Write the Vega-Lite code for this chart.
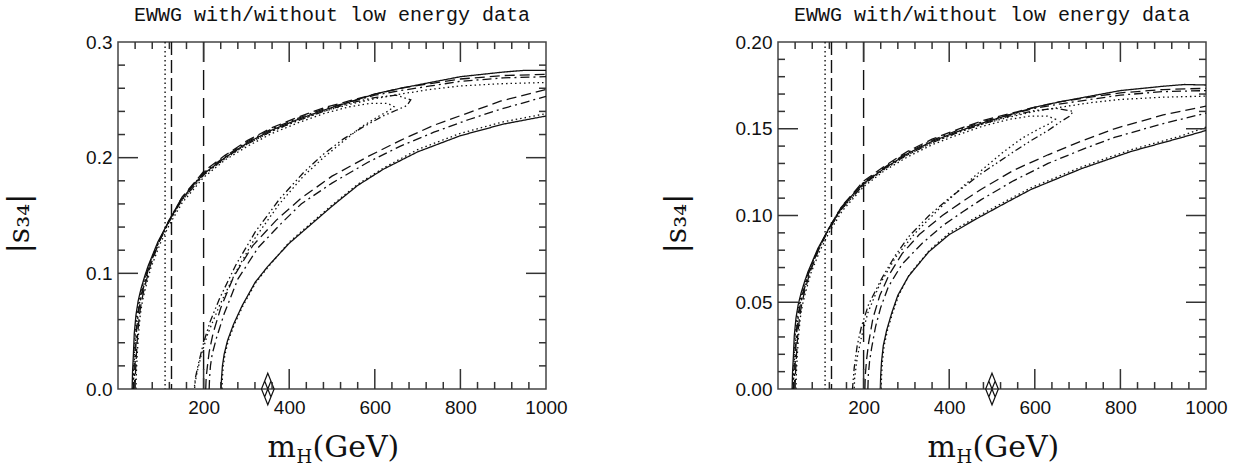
{
"$schema":"https://vega.github.io/schema/vega-lite/v6.json",
"background":"white",
"padding":{"left":3,"top":4,"right":5,"bottom":2},
"spacing":232,
"bounds":"flush",
"config":{
 "view":{"stroke":"#444","strokeWidth":1.5},
 "axis":{"domain":false,"grid":false,"ticks":false,"labelFont":"Liberation Sans","labelFontSize":19,"labelColor":"#111","labelFlush":false,"labelOverlap":false,"titleFont":"DejaVu Serif","titleFontWeight":"normal","titleColor":"#111"},
 "rule":{"color":"#333","strokeWidth":1.5},
 "title":{"font":"Liberation Mono","fontSize":20,"fontWeight":"normal","color":"#111","anchor":"middle","frame":"group","offset":8,"baseline":"alphabetic"}
},
"datasets":{
"XM":[{"t":200},{"t":400},{"t":600},{"t":800}],
"XN":[{"t":40},{"t":80},{"t":120},{"t":160},{"t":240},{"t":280},{"t":320},{"t":360},{"t":440},{"t":480},{"t":520},{"t":560},{"t":640},{"t":680},{"t":720},{"t":760},{"t":840},{"t":880},{"t":920},{"t":960}],
"YML":[{"t":0.1},{"t":0.2}],
"YNL":[{"t":0.02},{"t":0.04},{"t":0.06},{"t":0.08},{"t":0.12},{"t":0.14},{"t":0.16},{"t":0.18},{"t":0.22},{"t":0.24},{"t":0.26},{"t":0.28}],
"YMR":[{"t":0.05},{"t":0.1},{"t":0.15}],
"YNR":[{"t":0.01},{"t":0.02},{"t":0.03},{"t":0.04},{"t":0.06},{"t":0.07},{"t":0.08},{"t":0.09},{"t":0.11},{"t":0.12},{"t":0.13},{"t":0.14},{"t":0.16},{"t":0.17},{"t":0.18},{"t":0.19}],
"L":[
{"k":"c1u","x":33,"y":0},{"k":"c1u","x":34,"y":0.015},{"k":"c1u","x":36,"y":0.03},{"k":"c1u","x":38,"y":0.048},{"k":"c1u","x":42,"y":0.064},{"k":"c1u","x":47,"y":0.076},{"k":"c1u","x":54,"y":0.087},{"k":"c1u","x":62,"y":0.097},{"k":"c1u","x":70,"y":0.106},{"k":"c1u","x":82,"y":0.117},{"k":"c1u","x":93,"y":0.127},{"k":"c1u","x":117,"y":0.144},{"k":"c1u","x":147,"y":0.163},{"k":"c1u","x":175,"y":0.176},{"k":"c1u","x":200,"y":0.186},{"k":"c1u","x":250,"y":0.2},{"k":"c1u","x":303,"y":0.213},{"k":"c1u","x":360,"y":0.224},{"k":"c1u","x":420,"y":0.233},{"k":"c1u","x":480,"y":0.241},{"k":"c1u","x":540,"y":0.248},{"k":"c1u","x":600,"y":0.255},{"k":"c1u","x":660,"y":0.26},{"k":"c1u","x":730,"y":0.265},{"k":"c1u","x":800,"y":0.27},{"k":"c1u","x":900,"y":0.274},{"k":"c1u","x":950,"y":0.2755},{"k":"c1u","x":1000,"y":0.2755},
{"k":"c1l","x":241,"y":0},{"k":"c1l","x":242,"y":0.01},{"k":"c1l","x":244,"y":0.02},{"k":"c1l","x":248,"y":0.03},{"k":"c1l","x":256,"y":0.042},{"k":"c1l","x":270,"y":0.056},{"k":"c1l","x":290,"y":0.072},{"k":"c1l","x":320,"y":0.092},{"k":"c1l","x":350,"y":0.106},{"k":"c1l","x":400,"y":0.126},{"k":"c1l","x":450,"y":0.142},{"k":"c1l","x":500,"y":0.158},{"k":"c1l","x":560,"y":0.176},{"k":"c1l","x":620,"y":0.19},{"k":"c1l","x":700,"y":0.205},{"k":"c1l","x":800,"y":0.219},{"k":"c1l","x":900,"y":0.229},{"k":"c1l","x":1000,"y":0.236},
{"k":"c2u","x":35,"y":0},{"k":"c2u","x":36,"y":0.015},{"k":"c2u","x":38,"y":0.03},{"k":"c2u","x":40,"y":0.048},{"k":"c2u","x":44,"y":0.064},{"k":"c2u","x":49,"y":0.076},{"k":"c2u","x":56,"y":0.087},{"k":"c2u","x":70,"y":0.105},{"k":"c2u","x":93,"y":0.126},{"k":"c2u","x":117,"y":0.143},{"k":"c2u","x":147,"y":0.162},{"k":"c2u","x":200,"y":0.185},{"k":"c2u","x":250,"y":0.199},{"k":"c2u","x":303,"y":0.212},{"k":"c2u","x":360,"y":0.223},{"k":"c2u","x":420,"y":0.232},{"k":"c2u","x":480,"y":0.24},{"k":"c2u","x":540,"y":0.246},{"k":"c2u","x":600,"y":0.251},{"k":"c2u","x":660,"y":0.255},{"k":"c2u","x":730,"y":0.259},{"k":"c2u","x":800,"y":0.262},{"k":"c2u","x":900,"y":0.264},{"k":"c2u","x":1000,"y":0.265},
{"k":"c2l","x":243,"y":0},{"k":"c2l","x":244,"y":0.01},{"k":"c2l","x":246,"y":0.02},{"k":"c2l","x":250,"y":0.03},{"k":"c2l","x":258,"y":0.042},{"k":"c2l","x":272,"y":0.056},{"k":"c2l","x":292,"y":0.072},{"k":"c2l","x":322,"y":0.092},{"k":"c2l","x":352,"y":0.106},{"k":"c2l","x":400,"y":0.127},{"k":"c2l","x":450,"y":0.143},{"k":"c2l","x":500,"y":0.159},{"k":"c2l","x":560,"y":0.177},{"k":"c2l","x":620,"y":0.191},{"k":"c2l","x":700,"y":0.207},{"k":"c2l","x":800,"y":0.221},{"k":"c2l","x":900,"y":0.231},{"k":"c2l","x":1000,"y":0.238},
{"k":"c3u","x":38,"y":0},{"k":"c3u","x":39,"y":0.015},{"k":"c3u","x":41,"y":0.03},{"k":"c3u","x":43,"y":0.048},{"k":"c3u","x":47,"y":0.064},{"k":"c3u","x":52,"y":0.076},{"k":"c3u","x":59,"y":0.087},{"k":"c3u","x":72,"y":0.105},{"k":"c3u","x":95,"y":0.127},{"k":"c3u","x":118,"y":0.145},{"k":"c3u","x":147,"y":0.164},{"k":"c3u","x":200,"y":0.187},{"k":"c3u","x":250,"y":0.201},{"k":"c3u","x":303,"y":0.214},{"k":"c3u","x":360,"y":0.225},{"k":"c3u","x":420,"y":0.234},{"k":"c3u","x":480,"y":0.242},{"k":"c3u","x":540,"y":0.248},{"k":"c3u","x":600,"y":0.254},{"k":"c3u","x":660,"y":0.258},{"k":"c3u","x":730,"y":0.262},{"k":"c3u","x":800,"y":0.266},{"k":"c3u","x":900,"y":0.269},{"k":"c3u","x":1000,"y":0.27},
{"k":"c3l","x":213,"y":0},{"k":"c3l","x":214,"y":0.01},{"k":"c3l","x":216,"y":0.02},{"k":"c3l","x":220,"y":0.03},{"k":"c3l","x":230,"y":0.044},{"k":"c3l","x":248,"y":0.065},{"k":"c3l","x":280,"y":0.095},{"k":"c3l","x":327,"y":0.122},{"k":"c3l","x":381,"y":0.143},{"k":"c3l","x":428,"y":0.16},{"k":"c3l","x":500,"y":0.178},{"k":"c3l","x":584,"y":0.196},{"k":"c3l","x":660,"y":0.21},{"k":"c3l","x":738,"y":0.222},{"k":"c3l","x":820,"y":0.233},{"k":"c3l","x":895,"y":0.242},{"k":"c3l","x":1000,"y":0.253},
{"k":"c4u","x":40,"y":0},{"k":"c4u","x":41,"y":0.015},{"k":"c4u","x":43,"y":0.03},{"k":"c4u","x":46,"y":0.048},{"k":"c4u","x":50,"y":0.064},{"k":"c4u","x":55,"y":0.076},{"k":"c4u","x":62,"y":0.088},{"k":"c4u","x":75,"y":0.106},{"k":"c4u","x":97,"y":0.128},{"k":"c4u","x":120,"y":0.146},{"k":"c4u","x":150,"y":0.166},{"k":"c4u","x":200,"y":0.188},{"k":"c4u","x":250,"y":0.202},{"k":"c4u","x":303,"y":0.215},{"k":"c4u","x":360,"y":0.226},{"k":"c4u","x":420,"y":0.235},{"k":"c4u","x":480,"y":0.243},{"k":"c4u","x":540,"y":0.249},{"k":"c4u","x":600,"y":0.255},{"k":"c4u","x":660,"y":0.26},{"k":"c4u","x":730,"y":0.264},{"k":"c4u","x":800,"y":0.268},{"k":"c4u","x":900,"y":0.271},{"k":"c4u","x":1000,"y":0.272},
{"k":"c4l","x":205,"y":0},{"k":"c4l","x":206,"y":0.01},{"k":"c4l","x":209,"y":0.02},{"k":"c4l","x":213,"y":0.032},{"k":"c4l","x":222,"y":0.048},{"k":"c4l","x":240,"y":0.07},{"k":"c4l","x":270,"y":0.097},{"k":"c4l","x":315,"y":0.124},{"k":"c4l","x":370,"y":0.146},{"k":"c4l","x":428,"y":0.165},{"k":"c4l","x":500,"y":0.184},{"k":"c4l","x":584,"y":0.201},{"k":"c4l","x":660,"y":0.215},{"k":"c4l","x":738,"y":0.228},{"k":"c4l","x":820,"y":0.239},{"k":"c4l","x":895,"y":0.249},{"k":"c4l","x":1000,"y":0.259},
{"k":"c5","x":36,"y":0},{"k":"c5","x":37,"y":0.015},{"k":"c5","x":39,"y":0.03},{"k":"c5","x":42,"y":0.048},{"k":"c5","x":46,"y":0.064},{"k":"c5","x":51,"y":0.076},{"k":"c5","x":58,"y":0.087},{"k":"c5","x":71,"y":0.105},{"k":"c5","x":94,"y":0.126},{"k":"c5","x":117,"y":0.143},{"k":"c5","x":147,"y":0.162},{"k":"c5","x":200,"y":0.185},{"k":"c5","x":250,"y":0.2},{"k":"c5","x":303,"y":0.212},{"k":"c5","x":360,"y":0.223},{"k":"c5","x":420,"y":0.232},{"k":"c5","x":480,"y":0.24},{"k":"c5","x":540,"y":0.247},{"k":"c5","x":600,"y":0.252},{"k":"c5","x":650,"y":0.254},{"k":"c5","x":684,"y":0.25},{"k":"c5","x":675,"y":0.245},{"k":"c5","x":650,"y":0.241},{"k":"c5","x":619,"y":0.236},{"k":"c5","x":570,"y":0.226},{"k":"c5","x":526,"y":0.216},{"k":"c5","x":480,"y":0.203},{"k":"c5","x":433,"y":0.187},{"k":"c5","x":377,"y":0.164},{"k":"c5","x":321,"y":0.136},{"k":"c5","x":275,"y":0.107},{"k":"c5","x":237,"y":0.078},{"k":"c5","x":215,"y":0.058},{"k":"c5","x":200,"y":0.04},{"k":"c5","x":188,"y":0.022},{"k":"c5","x":181,"y":0.01},{"k":"c5","x":178,"y":0},
{"k":"c6","x":42,"y":0},{"k":"c6","x":43,"y":0.015},{"k":"c6","x":45,"y":0.03},{"k":"c6","x":48,"y":0.048},{"k":"c6","x":52,"y":0.064},{"k":"c6","x":57,"y":0.076},{"k":"c6","x":64,"y":0.087},{"k":"c6","x":77,"y":0.105},{"k":"c6","x":99,"y":0.126},{"k":"c6","x":120,"y":0.142},{"k":"c6","x":150,"y":0.161},{"k":"c6","x":200,"y":0.183},{"k":"c6","x":250,"y":0.198},{"k":"c6","x":303,"y":0.21},{"k":"c6","x":360,"y":0.221},{"k":"c6","x":420,"y":0.23},{"k":"c6","x":480,"y":0.238},{"k":"c6","x":540,"y":0.244},{"k":"c6","x":590,"y":0.247},{"k":"c6","x":630,"y":0.247},{"k":"c6","x":645,"y":0.244},{"k":"c6","x":630,"y":0.24},{"k":"c6","x":610,"y":0.236},{"k":"c6","x":570,"y":0.227},{"k":"c6","x":526,"y":0.214},{"k":"c6","x":480,"y":0.2},{"k":"c6","x":433,"y":0.184},{"k":"c6","x":377,"y":0.16},{"k":"c6","x":321,"y":0.131},{"k":"c6","x":275,"y":0.101},{"k":"c6","x":237,"y":0.072},{"k":"c6","x":210,"y":0.048},{"k":"c6","x":195,"y":0.03},{"k":"c6","x":185,"y":0.015},{"k":"c6","x":180,"y":0.005},{"k":"c6","x":179,"y":0}
],
"R":[
{"k":"c1u","x":33,"y":0},{"k":"c1u","x":34,"y":0.0096},{"k":"c1u","x":36,"y":0.019},{"k":"c1u","x":38,"y":0.0306},{"k":"c1u","x":42,"y":0.0408},{"k":"c1u","x":47,"y":0.0484},{"k":"c1u","x":54,"y":0.0554},{"k":"c1u","x":62,"y":0.0618},{"k":"c1u","x":70,"y":0.0675},{"k":"c1u","x":82,"y":0.0745},{"k":"c1u","x":93,"y":0.0809},{"k":"c1u","x":117,"y":0.0917},{"k":"c1u","x":147,"y":0.1038},{"k":"c1u","x":175,"y":0.1121},{"k":"c1u","x":200,"y":0.1185},{"k":"c1u","x":250,"y":0.1274},{"k":"c1u","x":303,"y":0.1357},{"k":"c1u","x":360,"y":0.1427},{"k":"c1u","x":420,"y":0.1484},{"k":"c1u","x":480,"y":0.1535},{"k":"c1u","x":540,"y":0.158},{"k":"c1u","x":600,"y":0.1624},{"k":"c1u","x":660,"y":0.1656},{"k":"c1u","x":730,"y":0.1688},{"k":"c1u","x":800,"y":0.172},{"k":"c1u","x":900,"y":0.1745},{"k":"c1u","x":950,"y":0.1755},{"k":"c1u","x":1000,"y":0.1752},
{"k":"c1l","x":239,"y":0},{"k":"c1l","x":240,"y":0.008},{"k":"c1l","x":242,"y":0.016},{"k":"c1l","x":246,"y":0.025},{"k":"c1l","x":254,"y":0.034},{"k":"c1l","x":266,"y":0.044},{"k":"c1l","x":280,"y":0.054},{"k":"c1l","x":305,"y":0.065},{"k":"c1l","x":352,"y":0.079},{"k":"c1l","x":400,"y":0.089},{"k":"c1l","x":463,"y":0.098},{"k":"c1l","x":530,"y":0.107},{"k":"c1l","x":591,"y":0.115},{"k":"c1l","x":650,"y":0.121},{"k":"c1l","x":709,"y":0.127},{"k":"c1l","x":826,"y":0.137},{"k":"c1l","x":944,"y":0.145},{"k":"c1l","x":1000,"y":0.149},
{"k":"c2u","x":35,"y":0},{"k":"c2u","x":36,"y":0.0096},{"k":"c2u","x":38,"y":0.019},{"k":"c2u","x":40,"y":0.0306},{"k":"c2u","x":44,"y":0.0408},{"k":"c2u","x":49,"y":0.0484},{"k":"c2u","x":56,"y":0.0554},{"k":"c2u","x":70,"y":0.0669},{"k":"c2u","x":93,"y":0.0803},{"k":"c2u","x":117,"y":0.0911},{"k":"c2u","x":147,"y":0.1032},{"k":"c2u","x":200,"y":0.1178},{"k":"c2u","x":250,"y":0.1268},{"k":"c2u","x":303,"y":0.135},{"k":"c2u","x":360,"y":0.142},{"k":"c2u","x":420,"y":0.1478},{"k":"c2u","x":480,"y":0.1529},{"k":"c2u","x":540,"y":0.1567},{"k":"c2u","x":600,"y":0.16},{"k":"c2u","x":660,"y":0.1624},{"k":"c2u","x":730,"y":0.165},{"k":"c2u","x":800,"y":0.1669},{"k":"c2u","x":900,"y":0.1682},{"k":"c2u","x":1000,"y":0.1688},
{"k":"c2l","x":241,"y":0},{"k":"c2l","x":242,"y":0.008},{"k":"c2l","x":244,"y":0.016},{"k":"c2l","x":248,"y":0.025},{"k":"c2l","x":256,"y":0.034},{"k":"c2l","x":268,"y":0.044},{"k":"c2l","x":282,"y":0.054},{"k":"c2l","x":307,"y":0.066},{"k":"c2l","x":354,"y":0.08},{"k":"c2l","x":400,"y":0.09},{"k":"c2l","x":463,"y":0.099},{"k":"c2l","x":530,"y":0.108},{"k":"c2l","x":591,"y":0.116},{"k":"c2l","x":650,"y":0.122},{"k":"c2l","x":709,"y":0.128},{"k":"c2l","x":826,"y":0.138},{"k":"c2l","x":944,"y":0.146},{"k":"c2l","x":1000,"y":0.151},
{"k":"c3u","x":38,"y":0},{"k":"c3u","x":39,"y":0.0096},{"k":"c3u","x":41,"y":0.019},{"k":"c3u","x":43,"y":0.0306},{"k":"c3u","x":47,"y":0.0408},{"k":"c3u","x":52,"y":0.0484},{"k":"c3u","x":59,"y":0.0554},{"k":"c3u","x":72,"y":0.0669},{"k":"c3u","x":95,"y":0.0809},{"k":"c3u","x":118,"y":0.0924},{"k":"c3u","x":147,"y":0.1045},{"k":"c3u","x":200,"y":0.1191},{"k":"c3u","x":250,"y":0.128},{"k":"c3u","x":303,"y":0.1363},{"k":"c3u","x":360,"y":0.1433},{"k":"c3u","x":420,"y":0.1491},{"k":"c3u","x":480,"y":0.1542},{"k":"c3u","x":540,"y":0.158},{"k":"c3u","x":600,"y":0.1618},{"k":"c3u","x":660,"y":0.1643},{"k":"c3u","x":730,"y":0.1669},{"k":"c3u","x":800,"y":0.1694},{"k":"c3u","x":900,"y":0.1714},{"k":"c3u","x":1000,"y":0.172},
{"k":"c3l","x":210,"y":0},{"k":"c3l","x":211,"y":0.008},{"k":"c3l","x":214,"y":0.016},{"k":"c3l","x":219,"y":0.024},{"k":"c3l","x":228,"y":0.036},{"k":"c3l","x":240,"y":0.047},{"k":"c3l","x":258,"y":0.059},{"k":"c3l","x":290,"y":0.072},{"k":"c3l","x":337,"y":0.084},{"k":"c3l","x":384,"y":0.094},{"k":"c3l","x":431,"y":0.102},{"k":"c3l","x":474,"y":0.109},{"k":"c3l","x":550,"y":0.12},{"k":"c3l","x":631,"y":0.13},{"k":"c3l","x":710,"y":0.138},{"k":"c3l","x":786,"y":0.145},{"k":"c3l","x":900,"y":0.153},{"k":"c3l","x":1000,"y":0.159},
{"k":"c4u","x":40,"y":0},{"k":"c4u","x":41,"y":0.0096},{"k":"c4u","x":43,"y":0.019},{"k":"c4u","x":46,"y":0.0306},{"k":"c4u","x":50,"y":0.0408},{"k":"c4u","x":55,"y":0.0484},{"k":"c4u","x":62,"y":0.0561},{"k":"c4u","x":75,"y":0.0675},{"k":"c4u","x":97,"y":0.0815},{"k":"c4u","x":120,"y":0.093},{"k":"c4u","x":150,"y":0.1057},{"k":"c4u","x":200,"y":0.1198},{"k":"c4u","x":250,"y":0.1287},{"k":"c4u","x":303,"y":0.137},{"k":"c4u","x":360,"y":0.144},{"k":"c4u","x":420,"y":0.1497},{"k":"c4u","x":480,"y":0.1548},{"k":"c4u","x":540,"y":0.1586},{"k":"c4u","x":600,"y":0.1624},{"k":"c4u","x":660,"y":0.1656},{"k":"c4u","x":730,"y":0.1682},{"k":"c4u","x":800,"y":0.1707},{"k":"c4u","x":900,"y":0.1726},{"k":"c4u","x":1000,"y":0.1733},
{"k":"c4l","x":203,"y":0},{"k":"c4l","x":204,"y":0.008},{"k":"c4l","x":207,"y":0.017},{"k":"c4l","x":212,"y":0.027},{"k":"c4l","x":222,"y":0.041},{"k":"c4l","x":238,"y":0.054},{"k":"c4l","x":260,"y":0.066},{"k":"c4l","x":290,"y":0.078},{"k":"c4l","x":330,"y":0.089},{"k":"c4l","x":384,"y":0.1},{"k":"c4l","x":431,"y":0.108},{"k":"c4l","x":474,"y":0.115},{"k":"c4l","x":550,"y":0.126},{"k":"c4l","x":631,"y":0.135},{"k":"c4l","x":710,"y":0.143},{"k":"c4l","x":786,"y":0.15},{"k":"c4l","x":900,"y":0.158},{"k":"c4l","x":1000,"y":0.163},
{"k":"c5","x":36,"y":0},{"k":"c5","x":37,"y":0.0096},{"k":"c5","x":39,"y":0.019},{"k":"c5","x":42,"y":0.0306},{"k":"c5","x":46,"y":0.0408},{"k":"c5","x":51,"y":0.0484},{"k":"c5","x":58,"y":0.0554},{"k":"c5","x":71,"y":0.0669},{"k":"c5","x":94,"y":0.0803},{"k":"c5","x":117,"y":0.0911},{"k":"c5","x":147,"y":0.1032},{"k":"c5","x":200,"y":0.1178},{"k":"c5","x":250,"y":0.1274},{"k":"c5","x":303,"y":0.135},{"k":"c5","x":360,"y":0.142},{"k":"c5","x":420,"y":0.1478},{"k":"c5","x":480,"y":0.1529},{"k":"c5","x":540,"y":0.1573},{"k":"c5","x":600,"y":0.1605},{"k":"c5","x":650,"y":0.1618},{"k":"c5","x":690,"y":0.16},{"k":"c5","x":680,"y":0.157},{"k":"c5","x":660,"y":0.154},{"k":"c5","x":631,"y":0.149},{"k":"c5","x":590,"y":0.143},{"k":"c5","x":552,"y":0.137},{"k":"c5","x":474,"y":0.124},{"k":"c5","x":400,"y":0.11},{"k":"c5","x":353,"y":0.1},{"k":"c5","x":306,"y":0.088},{"k":"c5","x":274,"y":0.077},{"k":"c5","x":243,"y":0.064},{"k":"c5","x":212,"y":0.049},{"k":"c5","x":195,"y":0.036},{"k":"c5","x":185,"y":0.025},{"k":"c5","x":178,"y":0.012},{"k":"c5","x":174,"y":0},
{"k":"c6","x":42,"y":0},{"k":"c6","x":43,"y":0.0096},{"k":"c6","x":45,"y":0.019},{"k":"c6","x":48,"y":0.0306},{"k":"c6","x":52,"y":0.0408},{"k":"c6","x":57,"y":0.0484},{"k":"c6","x":64,"y":0.0554},{"k":"c6","x":77,"y":0.0669},{"k":"c6","x":99,"y":0.0803},{"k":"c6","x":120,"y":0.0905},{"k":"c6","x":150,"y":0.1026},{"k":"c6","x":200,"y":0.1166},{"k":"c6","x":250,"y":0.1261},{"k":"c6","x":303,"y":0.1338},{"k":"c6","x":360,"y":0.1408},{"k":"c6","x":420,"y":0.1465},{"k":"c6","x":480,"y":0.1516},{"k":"c6","x":540,"y":0.1554},{"k":"c6","x":590,"y":0.1573},{"k":"c6","x":630,"y":0.1573},{"k":"c6","x":648,"y":0.1555},{"k":"c6","x":635,"y":0.153},{"k":"c6","x":610,"y":0.15},{"k":"c6","x":570,"y":0.1445},{"k":"c6","x":526,"y":0.1365},{"k":"c6","x":480,"y":0.127},{"k":"c6","x":433,"y":0.117},{"k":"c6","x":377,"y":0.104},{"k":"c6","x":321,"y":0.09},{"k":"c6","x":275,"y":0.076},{"k":"c6","x":237,"y":0.06},{"k":"c6","x":210,"y":0.044},{"k":"c6","x":195,"y":0.03},{"k":"c6","x":185,"y":0.018},{"k":"c6","x":179,"y":0.006},{"k":"c6","x":178,"y":0}
]
},
"hconcat":[
{
 "width":428,"height":347,
 "title":{"text":"EWWG with/without low energy data"},
 "resolve":{"axis":{"x":"independent","y":"independent"}},
 "layer":[
  {"data":{"name":"L"},"transform":[{"filter":{"field":"k","oneOf":["c1u","c1l","c2u","c2l"]}}],
   "mark":{"type":"line","strokeWidth":1.3,"color":"#111"},
   "encoding":{
    "x":{"field":"x","type":"quantitative","scale":{"domain":[0,1000],"nice":false,"zero":false},"axis":{"orient":"bottom","values":[200,400,600,800,1000],"format":"d","labelPadding":9,"title":"(GeV)","titleX":194,"titleY":67,"titleAlign":"left","titleBaseline":"alphabetic","titleFontSize":30}},
    "y":{"field":"y","type":"quantitative","scale":{"domain":[0,0.3],"nice":false,"zero":false},"axis":{"orient":"left","values":[0,0.1,0.2,0.3],"format":".1f","labelPadding":6,"title":"|s₃₄|","titleX":-90,"titleY":181,"titleAngle":-90,"titleAlign":"center","titleBaseline":"alphabetic","titleFontSize":30}},
    "strokeDash":{"field":"k","type":"nominal","legend":null,"scale":{"domain":["c1u","c1l","c2u","c2l","c3u","c3l","c4u","c4l","c5","c6","v1","v2","v3"],"range":[[1,0],[1,0],[1.5,3],[1.5,3],[9,4,2,4],[9,4,2,4],[10,5],[10,5],[7,3,1.5,3,1.5,3],[1.5,3],[1.5,3],[13,5],[20,8]]}},
    "order":{"value":null}
   }},
  {"data":{"name":"L"},"transform":[{"filter":{"field":"k","oneOf":["c3u","c3l","c4u","c4l","c5","c6"]}}],
   "mark":{"type":"line","strokeWidth":1.3,"color":"#111"},
   "encoding":{
    "x":{"field":"x","type":"quantitative","scale":{"domain":[0,1000],"nice":false,"zero":false},"axis":{"orient":"bottom","values":[500],"labels":false,"title":"m","titleX":149,"titleY":67,"titleAlign":"left","titleBaseline":"alphabetic","titleFontSize":30}},
    "y":{"field":"y","type":"quantitative","scale":{"domain":[0,0.3],"nice":false,"zero":false},"axis":null},
    "strokeDash":{"field":"k","type":"nominal","legend":null,"scale":{"domain":["c1u","c1l","c2u","c2l","c3u","c3l","c4u","c4l","c5","c6","v1","v2","v3"],"range":[[1,0],[1,0],[1.5,3],[1.5,3],[9,4,2,4],[9,4,2,4],[10,5],[10,5],[7,3,1.5,3,1.5,3],[1.5,3],[1.5,3],[13,5],[20,8]]}},
    "order":{"value":null}
   }},
  {"data":{"values":[{"x":350,"y":0}]},
   "mark":{"type":"point","shape":"M0,-1L0.4,0L0,1L-0.4,0Z M-0.2,-0.5L0.2,0.5 M0.2,-0.5L-0.2,0.5","size":1000,"filled":false,"stroke":"#111","strokeWidth":1.2,"opacity":1},
   "encoding":{
    "x":{"field":"x","type":"quantitative","axis":null},
    "y":{"field":"y","type":"quantitative","axis":null}
   }},
  {"data":{"values":[{"x":110,"k":"v1"},{"x":125,"k":"v2"},{"x":200,"k":"v3"}]},
   "mark":{"type":"rule","strokeWidth":1.4,"color":"#111"},
   "encoding":{
    "x":{"field":"x","type":"quantitative","axis":{"orient":"bottom","values":[500],"labels":false,"title":"H","titleX":178,"titleY":73,"titleAlign":"left","titleBaseline":"alphabetic","titleFontSize":18}},
    "strokeDash":{"field":"k","type":"nominal","legend":null,"scale":{"domain":["c1u","c1l","c2u","c2l","c3u","c3l","c4u","c4l","c5","c6","v1","v2","v3"],"range":[[1,0],[1,0],[1.5,3],[1.5,3],[9,4,2,4],[9,4,2,4],[10,5],[10,5],[7,3,1.5,3,1.5,3],[1.5,3],[1.5,3],[13,5],[20,8]]}}
   }},
  {"data":{"name":"XM"},"mark":{"type":"rule"},"encoding":{"x":{"field":"t","type":"quantitative","axis":null},"y":{"datum":0,"axis":null},"y2":{"datum":0.0173}}},
  {"data":{"name":"XM"},"mark":{"type":"rule"},"encoding":{"x":{"field":"t","type":"quantitative","axis":null},"y":{"datum":0.3,"axis":null},"y2":{"datum":0.2827}}},
  {"data":{"name":"XN"},"mark":{"type":"rule"},"encoding":{"x":{"field":"t","type":"quantitative","axis":null},"y":{"datum":0,"axis":null},"y2":{"datum":0.0061}}},
  {"data":{"name":"XN"},"mark":{"type":"rule"},"encoding":{"x":{"field":"t","type":"quantitative","axis":null},"y":{"datum":0.3,"axis":null},"y2":{"datum":0.2939}}},
  {"data":{"name":"YML"},"mark":{"type":"rule"},"encoding":{"y":{"field":"t","type":"quantitative","axis":null},"x":{"datum":0,"axis":null},"x2":{"datum":46.7}}},
  {"data":{"name":"YML"},"mark":{"type":"rule"},"encoding":{"y":{"field":"t","type":"quantitative","axis":null},"x":{"datum":1000,"axis":null},"x2":{"datum":953.3}}},
  {"data":{"name":"YNL"},"mark":{"type":"rule"},"encoding":{"y":{"field":"t","type":"quantitative","axis":null},"x":{"datum":0,"axis":null},"x2":{"datum":16.4}}},
  {"data":{"name":"YNL"},"mark":{"type":"rule"},"encoding":{"y":{"field":"t","type":"quantitative","axis":null},"x":{"datum":1000,"axis":null},"x2":{"datum":983.6}}}
 ]
},
{
 "width":428,"height":347,
 "title":{"text":"EWWG with/without low energy data"},
 "resolve":{"axis":{"x":"independent","y":"independent"}},
 "layer":[
  {"data":{"name":"R"},"transform":[{"filter":{"field":"k","oneOf":["c1u","c1l","c2u","c2l"]}}],
   "mark":{"type":"line","strokeWidth":1.3,"color":"#111"},
   "encoding":{
    "x":{"field":"x","type":"quantitative","scale":{"domain":[0,1000],"nice":false,"zero":false},"axis":{"orient":"bottom","values":[200,400,600,800,1000],"format":"d","labelPadding":9,"title":"(GeV)","titleX":194,"titleY":67,"titleAlign":"left","titleBaseline":"alphabetic","titleFontSize":30}},
    "y":{"field":"y","type":"quantitative","scale":{"domain":[0,0.2],"nice":false,"zero":false},"axis":{"orient":"left","values":[0,0.05,0.1,0.15,0.2],"format":".2f","labelPadding":6,"title":"|s₃₄|","titleX":-93,"titleY":181,"titleAngle":-90,"titleAlign":"center","titleBaseline":"alphabetic","titleFontSize":30}},
    "strokeDash":{"field":"k","type":"nominal","legend":null,"scale":{"domain":["c1u","c1l","c2u","c2l","c3u","c3l","c4u","c4l","c5","c6","v1","v2","v3"],"range":[[1,0],[1,0],[1.5,3],[1.5,3],[9,4,2,4],[9,4,2,4],[10,5],[10,5],[7,3,1.5,3,1.5,3],[1.5,3],[1.5,3],[13,5],[20,8]]}},
    "order":{"value":null}
   }},
  {"data":{"name":"R"},"transform":[{"filter":{"field":"k","oneOf":["c3u","c3l","c4u","c4l","c5","c6"]}}],
   "mark":{"type":"line","strokeWidth":1.3,"color":"#111"},
   "encoding":{
    "x":{"field":"x","type":"quantitative","scale":{"domain":[0,1000],"nice":false,"zero":false},"axis":{"orient":"bottom","values":[500],"labels":false,"title":"m","titleX":149,"titleY":67,"titleAlign":"left","titleBaseline":"alphabetic","titleFontSize":30}},
    "y":{"field":"y","type":"quantitative","scale":{"domain":[0,0.2],"nice":false,"zero":false},"axis":null},
    "strokeDash":{"field":"k","type":"nominal","legend":null,"scale":{"domain":["c1u","c1l","c2u","c2l","c3u","c3l","c4u","c4l","c5","c6","v1","v2","v3"],"range":[[1,0],[1,0],[1.5,3],[1.5,3],[9,4,2,4],[9,4,2,4],[10,5],[10,5],[7,3,1.5,3,1.5,3],[1.5,3],[1.5,3],[13,5],[20,8]]}},
    "order":{"value":null}
   }},
  {"data":{"values":[{"x":500,"y":0}]},
   "mark":{"type":"point","shape":"M0,-1L0.4,0L0,1L-0.4,0Z M-0.2,-0.5L0.2,0.5 M0.2,-0.5L-0.2,0.5","size":1000,"filled":false,"stroke":"#111","strokeWidth":1.2,"opacity":1},
   "encoding":{
    "x":{"field":"x","type":"quantitative","axis":null},
    "y":{"field":"y","type":"quantitative","axis":null}
   }},
  {"data":{"values":[{"x":110,"k":"v1"},{"x":125,"k":"v2"},{"x":200,"k":"v3"}]},
   "mark":{"type":"rule","strokeWidth":1.4,"color":"#111"},
   "encoding":{
    "x":{"field":"x","type":"quantitative","axis":{"orient":"bottom","values":[500],"labels":false,"title":"H","titleX":178,"titleY":73,"titleAlign":"left","titleBaseline":"alphabetic","titleFontSize":18}},
    "strokeDash":{"field":"k","type":"nominal","legend":null,"scale":{"domain":["c1u","c1l","c2u","c2l","c3u","c3l","c4u","c4l","c5","c6","v1","v2","v3"],"range":[[1,0],[1,0],[1.5,3],[1.5,3],[9,4,2,4],[9,4,2,4],[10,5],[10,5],[7,3,1.5,3,1.5,3],[1.5,3],[1.5,3],[13,5],[20,8]]}}
   }},
  {"data":{"name":"XM"},"mark":{"type":"rule"},"encoding":{"x":{"field":"t","type":"quantitative","axis":null},"y":{"datum":0,"axis":null},"y2":{"datum":0.0115}}},
  {"data":{"name":"XM"},"mark":{"type":"rule"},"encoding":{"x":{"field":"t","type":"quantitative","axis":null},"y":{"datum":0.2,"axis":null},"y2":{"datum":0.1885}}},
  {"data":{"name":"XN"},"mark":{"type":"rule"},"encoding":{"x":{"field":"t","type":"quantitative","axis":null},"y":{"datum":0,"axis":null},"y2":{"datum":0.004}}},
  {"data":{"name":"XN"},"mark":{"type":"rule"},"encoding":{"x":{"field":"t","type":"quantitative","axis":null},"y":{"datum":0.2,"axis":null},"y2":{"datum":0.196}}},
  {"data":{"name":"YMR"},"mark":{"type":"rule"},"encoding":{"y":{"field":"t","type":"quantitative","axis":null},"x":{"datum":0,"axis":null},"x2":{"datum":46.7}}},
  {"data":{"name":"YMR"},"mark":{"type":"rule"},"encoding":{"y":{"field":"t","type":"quantitative","axis":null},"x":{"datum":1000,"axis":null},"x2":{"datum":953.3}}},
  {"data":{"name":"YNR"},"mark":{"type":"rule"},"encoding":{"y":{"field":"t","type":"quantitative","axis":null},"x":{"datum":0,"axis":null},"x2":{"datum":16.4}}},
  {"data":{"name":"YNR"},"mark":{"type":"rule"},"encoding":{"y":{"field":"t","type":"quantitative","axis":null},"x":{"datum":1000,"axis":null},"x2":{"datum":983.6}}}
 ]
}
]
}
